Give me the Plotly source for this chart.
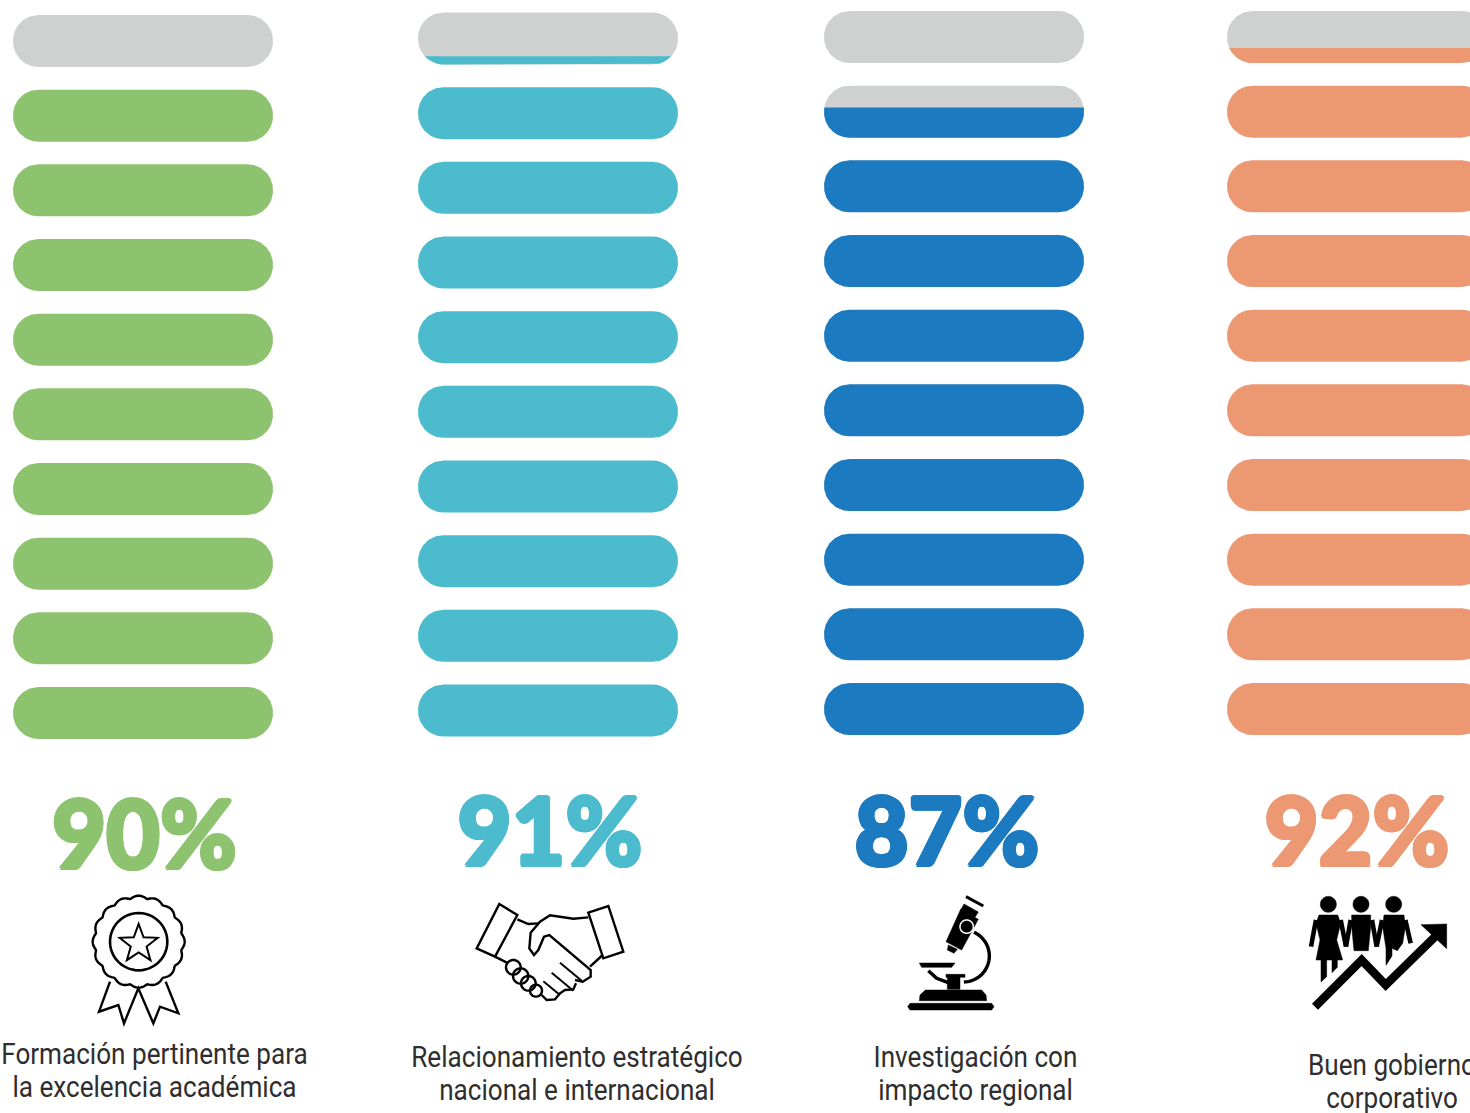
import numpy as np
import plotly.graph_objects as go

# ---- data ----
percent_labels = ["90%", "91%", "87%", "92%"]
filled_pills = [9.0, 9.16, 8.58, 9.29]      # pills filled, counted from the bottom (of 10)
label_line_1 = ["Formación pertinente para", "Relacionamiento estratégico", "Investigación con", "Buen gobierno"]
label_line_2 = ["la excelencia académica", "nacional e internacional", "impacto regional", "corporativo"]

# ---- layout / style ----
W, H = 1470, 1113
colors = ["#8DC36F", "#4DBBCE", "#1C7AC0", "#EC9873"]
GREY = "#CFD1D0"
TEXT = "#2E2E2E"
col_left = [13, 418, 824, 1227]
col_top = [15, 12.5, 11, 11]
PILL_W, PILL_H, RAD, STEP = 260, 52, 25.5, 74.67
pct_x = [144.5, 550, 947, 1357]
pct_y = [845, 842, 842, 842]
lab_x = [154.5, 577, 975.5, 1392]
lab_y = [1057, 1060, 1060, 1068]
LINE_GAP = 32.5


def half_inset(y, top):
    d = y - top
    if d < RAD:
        return RAD - np.sqrt(max(RAD**2 - (RAD - d)**2, 0))
    if d > PILL_H - RAD:
        e = d - (PILL_H - RAD)
        return RAD - np.sqrt(max(RAD**2 - e**2, 0))
    return 0.0


def pill(left, top, frac):
    start = top + PILL_H * (1 - frac)
    ys = np.unique(np.concatenate([np.linspace(start, top + PILL_H, 90),
                                   [start, top + PILL_H]]))
    ins = np.array([half_inset(y, top) for y in ys])
    xs = list(left + ins) + list((left + PILL_W - ins)[::-1])
    yy = list(ys) + list(ys[::-1])
    return xs + [xs[0], None], yy + [yy[0], None]


fig = go.Figure()
for c in range(4):
    gx, gy, fx, fy = [], [], [], []
    for r in range(10):
        top = col_top[c] + r * STEP
        level = 10 - r
        frac = float(np.clip(filled_pills[c] - (level - 1), 0, 1))
        if frac < 1:
            a, b = pill(col_left[c], top, 1.0)
            gx += a; gy += b
        if frac > 0:
            a, b = pill(col_left[c], top, frac)
            fx += a; fy += b
    if gx:
        fig.add_trace(go.Scatter(x=gx, y=gy, mode="lines", fill="toself", fillcolor=GREY,
                                 line=dict(width=0, color=GREY), hoverinfo="skip"))
    fig.add_trace(go.Scatter(x=fx, y=fy, mode="lines", fill="toself", fillcolor=colors[c],
                             line=dict(width=0, color=colors[c]), hoverinfo="skip"))

# big percentages: the halo thickens the glyphs to the poster weight of the original
for c in range(4):
    k = colors[c]
    halo = ", ".join(f"{dx}px {dy}px 0 {k}" for dx, dy in
                     [(1.8, 0), (-1.8, 0), (0, 1.8), (0, -1.8), (1.3, 1.3), (-1.3, 1.3), (1.3, -1.3), (-1.3, -1.3)])
    fig.add_trace(go.Scatter(x=[pct_x[c]], y=[pct_y[c]], mode="text", text=[percent_labels[c]],
                             textposition="middle center", cliponaxis=False, hoverinfo="skip",
                             textfont=dict(family="Lato", size=93, weight=900, color=k, shadow=halo)))

# captions
for c in range(4):
    fig.add_trace(go.Scatter(x=[lab_x[c], lab_x[c]], y=[lab_y[c], lab_y[c] + LINE_GAP], mode="text",
                             text=[label_line_1[c], label_line_2[c]], textposition="middle center",
                             cliponaxis=False, hoverinfo="skip",
                             textfont=dict(family="Roboto", size=29, color=TEXT)))

# ---- icons ----
shapes = []


def path_of(points, ox, oy, closed=False, scale=1 / 3):
    d = ""
    for i, (x, y) in enumerate(points):
        d += ("M" if i == 0 else "L") + f"{ox + x * scale:.2f},{oy + y * scale:.2f} "
    return d + ("Z" if closed else "")


def line_art(points, ox, oy, width=2.4, closed=False):
    shapes.append(dict(type="path", path=path_of(points, ox, oy, closed), xref="x", yref="y",
                       line=dict(color="black", width=width), fillcolor="rgba(0,0,0,0)"))


def solid(points, ox, oy):
    shapes.append(dict(type="path", path=path_of(points, ox, oy, True), xref="x", yref="y",
                       line=dict(color="black", width=0.5), fillcolor="black"))


def stroke(points, ox, oy, width):
    shapes.append(dict(type="path", path=path_of(points, ox, oy), xref="x", yref="y",
                       line=dict(color="black", width=width), fillcolor="rgba(0,0,0,0)"))


def ring(cx, cy, r, ox, oy, width=2.4, fill=None, color="black"):
    t = np.linspace(0, 2 * np.pi, 49)[:-1]
    pts = list(zip(cx + r * np.cos(t), cy + r * np.sin(t)))
    shapes.append(dict(type="path", path=path_of(pts, ox, oy, True), xref="x", yref="y",
                       line=dict(color=color, width=width), fillcolor=fill or "rgba(0,0,0,0)"))


# rosette
o1 = (0, 780)
t = np.linspace(0, 2 * np.pi, 241)
r_sc = 130 + 8 * np.abs(np.cos(8 * t))
line_art(list(zip(416 + r_sc * np.cos(t), 485 + r_sc * np.sin(t))), *o1, width=2.4, closed=True)
ring(416, 485, 86, *o1, width=2.6)
ang = -np.pi / 2 + np.arange(10) * np.pi / 5
rad = np.where(np.arange(10) % 2 == 0, 60, 25)
line_art(list(zip(416 + rad * np.cos(ang), 492 + rad * np.sin(ang))), *o1, width=2, closed=True)
line_art([(330, 605), (297, 695), (355, 675), (372, 730), (415, 625), (460, 730), (480, 680), (535, 700), (497, 605)], *o1)

# handshake
o2 = (400, 780)
line_art([(298, 372), (352, 405), (285, 530), (230, 505)], *o2, closed=True)
line_art([(565, 398), (625, 378), (670, 515), (610, 535)], *o2, closed=True)
line_art([(352, 418), (385, 432), (415, 430)], *o2)
line_art([(565, 412), (520, 416), (450, 406), (420, 425), (392, 458), (388, 505), (402, 525), (415, 510), (432, 470), (448, 465), (572, 570), (572, 590), (548, 605), (525, 600)], *o2)
line_art([(608, 525), (570, 560)], *o2)
line_art([(285, 530), (325, 550)], *o2)
line_art([(480, 548), (545, 602)], *o2, width=2)
line_art([(455, 578), (520, 632)], *o2, width=2)
line_art([(430, 604), (480, 645)], *o2, width=2)
line_art([(528, 610), (520, 628), (495, 630), (480, 640), (465, 658), (440, 660), (425, 645)], *o2)
for cx, cy, r in [(340, 562, 22), (362, 588, 23), (385, 610, 22), (408, 632, 18)]:
    ring(cx, cy, r, *o2)

# microscope
o3 = (840, 780)
stroke([(378, 350), (430, 378)], *o3, 3)
solid([(372, 372), (415, 396), (405, 412), (362, 390)], *o3)
solid([(362, 388), (415, 418), (365, 510), (318, 485)], *o3)
solid([(325, 495), (352, 508), (342, 520), (322, 510)], *o3)
ring(380, 440, 20, *o3, width=1.5, fill="black", color="white")
a = np.linspace(-1.15, 1.55, 40)
stroke(list(zip(370 + 78 * np.cos(a), 528 + 78 * np.sin(a))), *o3, 3.4)
solid([(238, 549), (345, 549), (335, 562), (245, 562)], *o3)
stroke([(265, 572), (290, 595), (325, 608)], *o3, 3.4)
solid([(318, 583), (375, 583), (375, 592), (360, 592), (360, 628), (322, 628), (322, 592), (318, 592)], *o3)
solid([(238, 662), (240, 645), (256, 630), (425, 630), (438, 645), (440, 662)], *o3)
solid([(210, 670), (455, 670), (462, 680), (455, 690), (210, 690), (203, 680)], *o3)

# people and rising arrow
o4 = (1220, 780)
for cx in [325, 423, 521]:
    ring(cx, 373, 24, *o4, width=0.5, fill="black")
solid([(297, 405), (353, 405), (362, 430), (350, 480), (368, 540), (352, 540), (352, 562), (336, 578), (336, 540), (320, 540), (320, 590), (303, 606), (303, 540), (288, 540), (300, 480), (288, 430)], *o4)
solid([(395, 405), (452, 405), (452, 440), (445, 512), (402, 512), (395, 440)], *o4)
solid([(492, 405), (552, 405), (556, 440), (548, 490), (532, 512), (516, 505), (516, 528), (498, 556), (498, 505), (488, 440)], *o4)
for arm in [[(288, 420), (273, 500)], [(362, 420), (378, 500)], [(392, 420), (378, 500)],
            [(456, 420), (470, 500)], [(486, 420), (470, 500)], [(556, 420), (572, 490)]]:
    stroke(arm, *o4, 4.6)
stroke([(285, 680), (425, 540), (497, 615), (645, 470)], *o4, 8.5)
solid([(603, 434), (680, 432), (680, 506)], *o4)

fig.update_layout(
    width=W, height=H, margin=dict(l=0, r=0, t=0, b=0), showlegend=False,
    paper_bgcolor="white", plot_bgcolor="white", shapes=shapes,
    xaxis=dict(range=[0, W], visible=False, fixedrange=True),
    yaxis=dict(range=[H, 0], visible=False, fixedrange=True),
)
squeeze = """
document.body.style.margin='0';document.body.style.overflow='hidden';
document.querySelectorAll('.textpoint text').forEach(function(t){
  if((t.style.fontFamily||'').indexOf('Roboto')<0) return;
  t.setAttribute('textLength', t.getComputedTextLength()*0.9);
  t.setAttribute('lengthAdjust','spacingAndGlyphs');
});
"""
fig.write_html("out.html", config=dict(displayModeBar=False), post_script=squeeze)
